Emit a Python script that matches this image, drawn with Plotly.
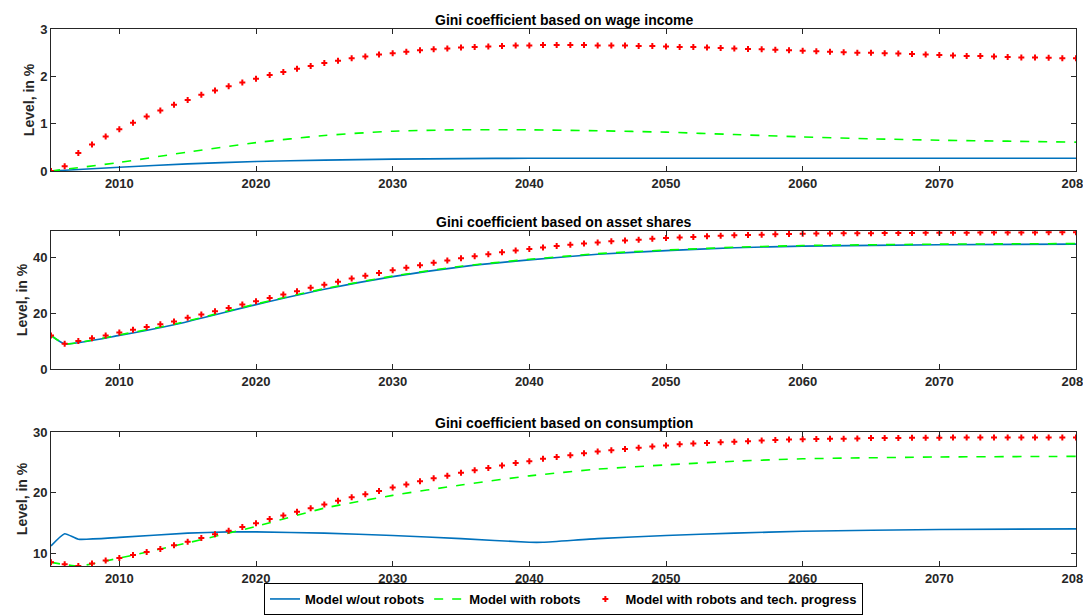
import plotly.graph_objects as go

years = list(range(2005, 2081))

# Panel 1: wage income
wage_tech = [0, 0.1, 0.38, 0.56, 0.73, 0.88, 1.02, 1.15, 1.28, 1.40, 1.50, 1.61, 1.70, 1.79, 1.87, 1.95,
             2.03, 2.09, 2.16, 2.22, 2.28, 2.33, 2.38, 2.42, 2.46, 2.49, 2.52, 2.55, 2.57, 2.59, 2.61,
             2.62, 2.63, 2.64, 2.65, 2.65, 2.66, 2.66, 2.66, 2.66, 2.65, 2.65, 2.65, 2.64, 2.64, 2.63,
             2.62, 2.62, 2.61, 2.60, 2.59, 2.58, 2.57, 2.56, 2.55, 2.54, 2.53, 2.52, 2.51, 2.50, 2.50,
             2.49, 2.48, 2.47, 2.46, 2.45, 2.44, 2.43, 2.43, 2.42, 2.41, 2.40, 2.40, 2.39, 2.38, 2.38]
line_years = [2005, 2010, 2015, 2020, 2025, 2030, 2035, 2040, 2045, 2050, 2055, 2060, 2065, 2070, 2075, 2080]
wage_rob = [0, 0.18, 0.40, 0.60, 0.75, 0.84, 0.87, 0.87, 0.85, 0.82, 0.77, 0.72, 0.68, 0.65, 0.63, 0.61]
wage_base = [0, 0.08, 0.15, 0.20, 0.23, 0.25, 0.26, 0.27, 0.27, 0.27, 0.27, 0.27, 0.27, 0.27, 0.27, 0.27]

# Panel 2: asset shares
asset_tech = [12, 9, 10, 11, 12, 13, 14, 15, 16, 17, 18.3, 19.5, 20.6, 21.8, 23, 24.2, 25.4, 26.6, 27.8,
              29, 30.1, 31.2, 32.3, 33.3, 34.3, 35.3, 36.2, 37.1, 38, 38.8, 39.6, 40.3, 41, 41.7, 42.3,
              42.9, 43.4, 43.9, 44.4, 44.8, 45.2, 45.6, 45.9, 46.2, 46.5, 46.8, 47, 47.2, 47.4, 47.6,
              47.8, 47.9, 48, 48.1, 48.2, 48.3, 48.4, 48.4, 48.5, 48.5, 48.5, 48.6, 48.6, 48.6, 48.7,
              48.7, 48.7, 48.7, 48.8, 48.8, 48.8, 48.8, 48.8, 48.9, 48.9, 48.9]
asset_years = [2005, 2006, 2010, 2014, 2020, 2025, 2030, 2035, 2040, 2045, 2050, 2055, 2060, 2070, 2080]
asset_rob = [12, 9, 12.2, 16, 23.2, 28.7, 33.2, 36.7, 39.2, 41.2, 42.5, 43.5, 44.1, 44.6, 44.8]
asset_base = [12, 9, 12, 15.8, 23, 28.5, 33, 36.5, 39, 41, 42.3, 43.3, 43.9, 44.4, 44.6]

# Panel 3: consumption
cons_tech = [8.6, 8.3, 8.0, 8.4, 8.9, 9.3, 9.8, 10.3, 10.8, 11.4, 12.0, 12.6, 13.2, 13.8, 14.4, 15.0,
             15.7, 16.3, 16.9, 17.5, 18.1, 18.7, 19.3, 19.8, 20.3, 20.9, 21.4, 21.9, 22.4, 22.8, 23.3,
             23.7, 24.1, 24.5, 24.9, 25.2, 25.6, 25.9, 26.2, 26.5, 26.8, 27.0, 27.2, 27.4, 27.6, 27.8,
             28.0, 28.1, 28.2, 28.3, 28.4, 28.5, 28.6, 28.7, 28.75, 28.8, 28.85, 28.9, 28.9, 28.95, 29.0,
             29.0, 29.0, 29.05, 29.05, 29.05, 29.1, 29.1, 29.1, 29.1, 29.1, 29.1, 29.1, 29.1, 29.1, 29.1]
cons_rob_years = [2005, 2007, 2010, 2015, 2020, 2025, 2030, 2035, 2040, 2045, 2050, 2055, 2060, 2070, 2080]
cons_rob = [8.6, 8.0, 9.3, 11.8, 14.5, 17.5, 19.6, 21.3, 22.8, 23.9, 24.6, 25.2, 25.6, 25.9, 26.0]
cons_base_years = [2005, 2006, 2007, 2010, 2015, 2018, 2020, 2025, 2030, 2035, 2040, 2041, 2045, 2050,
                   2055, 2060, 2070, 2080]
cons_base = [11.3, 13.3, 12.4, 12.7, 13.4, 13.6, 13.6, 13.4, 13.0, 12.5, 11.9, 11.9, 12.5, 13.0, 13.4,
             13.7, 14.0, 14.1]

names = ["Model w/out robots", "Model with robots", "Model with robots and tech. progress"]
titles = ["Gini coefficient based on wage income", "Gini coefficient based on asset shares",
          "Gini coefficient based on consumption"]

panels = [
    (line_years, wage_base, line_years, wage_rob, wage_tech, [0, 3], [0, 1, 2, 3]),
    (asset_years, asset_base, asset_years, asset_rob, asset_tech, [0, 49.3], [0, 20, 40]),
    (cons_base_years, cons_base, cons_rob_years, cons_rob, cons_tech, [8, 30], [10, 20, 30]),
]
domains = [[0.7315, 0.9654], [0.4053, 0.6326], [0.0807, 0.3015]]

fig = go.Figure()
for i, (bx, by, gx, gy, red, yr, tv) in enumerate(panels):
    n = "" if i == 0 else str(i + 1)
    fig.add_trace(go.Scatter(x=bx, y=by, mode="lines", line=dict(color="#0072BD", width=1.6,
                             shape="spline", smoothing=0.5), name=names[0], showlegend=(i == 0),
                             xaxis="x" + n, yaxis="y" + n))
    fig.add_trace(go.Scatter(x=gx, y=gy, mode="lines", line=dict(color="#00FF00", width=1.6, dash="dash",
                             shape="spline", smoothing=0.5), name=names[1], showlegend=(i == 0),
                             xaxis="x" + n, yaxis="y" + n))
    fig.add_trace(go.Scatter(x=years, y=red, mode="markers",
                             marker=dict(symbol="cross", color="red", size=5),
                             name=names[2], showlegend=(i == 0), xaxis="x" + n, yaxis="y" + n))
    ax = dict(range=[2005, 2080], tickvals=[2010, 2020, 2030, 2040, 2050, 2060, 2070, 2080],
              showline=True, mirror="ticks", linecolor="#262626", linewidth=1, ticks="inside",
              ticklen=5, tickcolor="#262626", showgrid=False, zeroline=False, automargin=False,
              tickfont=dict(size=13, weight="bold", color="#262626"), domain=[0, 1])
    ay = dict(range=yr, tickvals=tv, showline=True, mirror="ticks", linecolor="#262626", linewidth=1,
              ticks="inside", ticklen=5, tickcolor="#262626", showgrid=False, zeroline=False,
              tickfont=dict(size=13, weight="bold", color="#262626"), domain=domains[i],
              automargin=False,
              title=dict(text="Level, in %", font=dict(size=14, weight="bold", color="#262626"), standoff=2),
              anchor="x" + n)
    ax["anchor"] = "y" + n
    fig.update_layout({"xaxis" + n: ax, "yaxis" + n: ay})
    fig.add_annotation(text=titles[i], xref="paper", yref="paper", x=0.5, y=domains[i][1],
                       yanchor="bottom", showarrow=False, yshift=-1,
                       font=dict(size=14, weight="bold", color="black"))

fig.update_layout(
    width=1083, height=607, plot_bgcolor="white", paper_bgcolor="white",
    font=dict(family="Liberation Sans, Arial, sans-serif"),
    margin=dict(l=43, r=15, t=0, b=0, autoexpand=False),
    legend=dict(orientation="h", x=0.5, xanchor="center", y=0.0, yanchor="bottom",
                bordercolor="black", borderwidth=1, bgcolor="white",
                font=dict(size=13, weight="bold", color="black"), tracegroupgap=0,
                itemwidth=30),
)
fig.write_html("out.html")
